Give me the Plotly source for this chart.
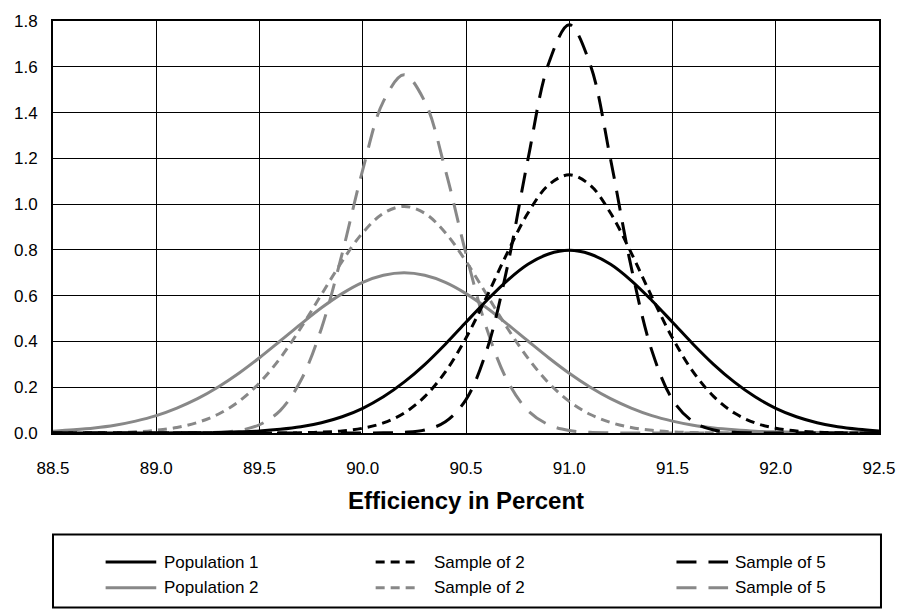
import plotly.graph_objects as go

# Efficiency axis (percent), sampled every 0.1
efficiency = [round(88.5 + 0.1 * i, 1) for i in range(41)]

# Probability densities, population 1 (mean 91.0) and its sample means
pop1 = [0.000, 0.000, 0.000, 0.000, 0.000, 0.000, 0.001, 0.001, 0.002, 0.005,
        0.009, 0.016, 0.027, 0.045, 0.071, 0.108, 0.158, 0.222, 0.299, 0.388,
        0.484, 0.579, 0.666, 0.737, 0.782, 0.798, 0.782, 0.737, 0.666, 0.579,
        0.484, 0.388, 0.299, 0.222, 0.158, 0.108, 0.071, 0.045, 0.027, 0.016,
        0.009]
pop1_n2 = [0.000, 0.000, 0.000, 0.000, 0.000, 0.000, 0.000, 0.000, 0.000, 0.000,
           0.000, 0.000, 0.001, 0.004, 0.009, 0.021, 0.044, 0.087, 0.159, 0.267,
           0.415, 0.595, 0.787, 0.961, 1.084, 1.128, 1.084, 0.961, 0.787, 0.595,
           0.415, 0.267, 0.159, 0.087, 0.044, 0.021, 0.009, 0.004, 0.001, 0.000,
           0.000]
pop1_n5 = [0.000, 0.000, 0.000, 0.000, 0.000, 0.000, 0.000, 0.000, 0.000, 0.000,
           0.000, 0.000, 0.000, 0.000, 0.000, 0.000, 0.001, 0.003, 0.013, 0.049,
           0.146, 0.360, 0.725, 1.196, 1.614, 1.784, 1.614, 1.196, 0.725, 0.360,
           0.146, 0.049, 0.013, 0.003, 0.001, 0.000, 0.000, 0.000, 0.000, 0.000,
           0.000]

# Population 2 (mean 90.2) and its sample means
pop2 = [0.008, 0.014, 0.022, 0.034, 0.052, 0.076, 0.109, 0.150, 0.201, 0.261,
        0.329, 0.402, 0.476, 0.547, 0.609, 0.658, 0.689, 0.700, 0.689, 0.658,
        0.609, 0.547, 0.476, 0.402, 0.329, 0.261, 0.201, 0.150, 0.109, 0.076,
        0.052, 0.034, 0.022, 0.014, 0.008, 0.005, 0.003, 0.001, 0.001, 0.000,
        0.000]
pop2_n2 = [0.000, 0.000, 0.001, 0.002, 0.005, 0.012, 0.024, 0.046, 0.082, 0.138,
           0.219, 0.327, 0.459, 0.605, 0.750, 0.875, 0.960, 0.990, 0.960, 0.875,
           0.750, 0.605, 0.459, 0.327, 0.219, 0.138, 0.082, 0.046, 0.024, 0.012,
           0.005, 0.002, 0.001, 0.000, 0.000, 0.000, 0.000, 0.000, 0.000, 0.000,
           0.000]
pop2_n5 = [0.000, 0.000, 0.000, 0.000, 0.000, 0.000, 0.000, 0.001, 0.003, 0.011,
           0.036, 0.098, 0.229, 0.457, 0.783, 1.150, 1.449, 1.565, 1.449, 1.150,
           0.783, 0.457, 0.229, 0.098, 0.036, 0.011, 0.003, 0.001, 0.000, 0.000,
           0.000, 0.000, 0.000, 0.000, 0.000, 0.000, 0.000, 0.000, 0.000, 0.000,
           0.000]

x_ticks = [88.5, 89.0, 89.5, 90.0, 90.5, 91.0, 91.5, 92.0, 92.5]
y_ticks = [0.0, 0.2, 0.4, 0.6, 0.8, 1.0, 1.2, 1.4, 1.6, 1.8]

BLACK = "#000000"
GREY = "#888888"
SHORT = "9px,6px"
LONG = "20px,12px"
FONT = "Liberation Sans, Arial, sans-serif"

series = [
    # (name, values, colour, dash) -- grey drawn first so black sits on top
    ("Population 2", pop2, GREY, "solid"),
    ("Sample of 2", pop2_n2, GREY, SHORT),
    ("Sample of 5", pop2_n5, GREY, LONG),
    ("Population 1", pop1, BLACK, "solid"),
    ("Sample of 2", pop1_n2, BLACK, SHORT),
    ("Sample of 5", pop1_n5, BLACK, LONG),
]

fig = go.Figure()
for name, vals, col, dash in series:
    fig.add_trace(go.Scatter(
        x=efficiency, y=vals, name=name, mode="lines",
        line=dict(color=col, width=3, dash=dash, shape="spline", smoothing=1.0),
        showlegend=False,
    ))

# Plot-area geometry in pixels (used to place the legend box in paper units)
W, H = 908, 614
L, R, T, B = 53, 23, 15, 181
pw, ph = W - L - R, H - T - B


def px_x(x):
    return (x - L) / pw


def px_y(y):
    return (H - B - y) / ph


shapes = [dict(type="rect", xref="paper", yref="paper",
               x0=px_x(53), x1=px_x(887), y0=px_y(536), y1=px_y(610),
               line=dict(color=BLACK, width=2), fillcolor="rgba(0,0,0,0)")]
annotations = [dict(text="<b>Efficiency in Percent</b>", xref="paper", yref="paper",
                    x=0.5, y=px_y(501), xanchor="center", yanchor="middle",
                    showarrow=False, font=dict(family=FONT, size=24, color=BLACK))]

# Legend entries: (label, colour, dash, line x0, line x1, text x, row y)
legend_items = [
    ("Population 1", BLACK, "solid", 106, 157, 163, 564),
    ("Sample of 2", BLACK, SHORT, 378, 418, 435, 564),
    ("Sample of 5", BLACK, LONG, 681, 733, 738, 564),
    ("Population 2", GREY, "solid", 106, 157, 163, 590),
    ("Sample of 2", GREY, SHORT, 378, 418, 435, 590),
    ("Sample of 5", GREY, LONG, 681, 733, 738, 590),
]
for label, col, dash, lx0, lx1, tx, ry in legend_items:
    shapes.append(dict(type="line", xref="paper", yref="paper",
                       x0=px_x(lx0), x1=px_x(lx1), y0=px_y(ry), y1=px_y(ry),
                       line=dict(color=col, width=3, dash=dash)))
    annotations.append(dict(text=label, xref="paper", yref="paper",
                            x=px_x(tx), y=px_y(ry), xanchor="left", yanchor="middle",
                            showarrow=False, font=dict(family=FONT, size=17, color=BLACK)))

fig.update_layout(
    width=W, height=H,
    margin=dict(l=L, r=R, t=T, b=B, pad=0),
    paper_bgcolor="white", plot_bgcolor="white",
    font=dict(family=FONT, size=17, color=BLACK),
    shapes=shapes, annotations=annotations,
    showlegend=False,
)
fig.update_xaxes(
    range=[88.5, 92.5], tickvals=x_ticks, tickformat=".1f",
    showgrid=True, gridcolor=BLACK, gridwidth=1.4,
    showline=True, mirror=True, linecolor=BLACK, linewidth=2,
    zeroline=False, ticks="", ticklabelstandoff=19,
    tickfont=dict(family=FONT, size=17, color=BLACK),
)
fig.update_yaxes(
    range=[0, 1.8], tickvals=y_ticks, tickformat=".1f",
    showgrid=True, gridcolor=BLACK, gridwidth=1.4,
    showline=True, mirror=True, linecolor=BLACK, linewidth=2,
    zeroline=False, ticks="", ticklabelstandoff=10,
    tickfont=dict(family=FONT, size=17, color=BLACK),
)

fig.write_html("out.html")
